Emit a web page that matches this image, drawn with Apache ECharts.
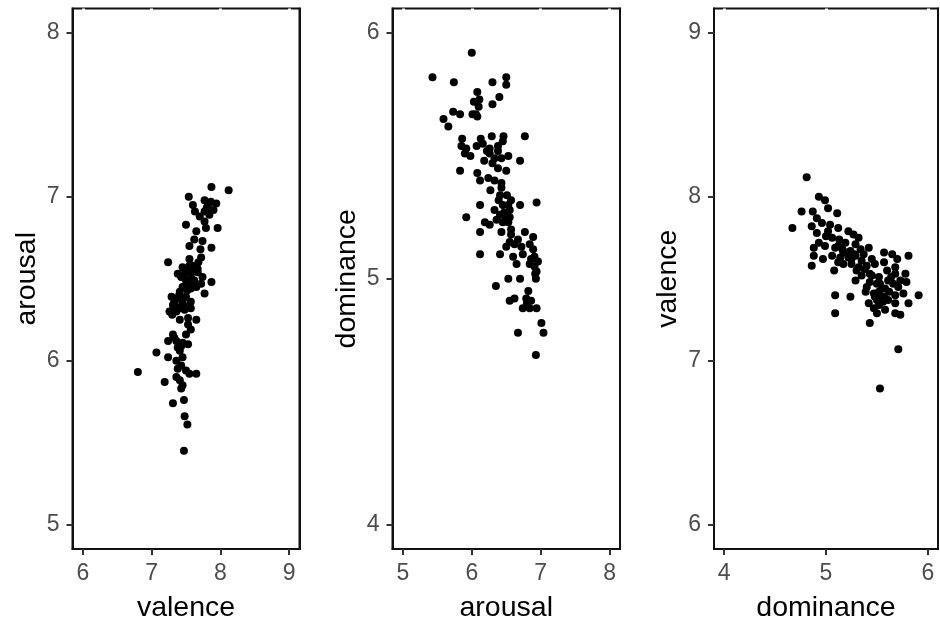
<!DOCTYPE html>
<html>
<head>
<meta charset="utf-8">
<title>valence / arousal / dominance</title>
<script src="https://cdn.jsdelivr.net/npm/echarts@6/dist/echarts.min.js"></script>
<style>
  html, body { margin: 0; padding: 0; background: #fff; }
  #chart { width: 940px; height: 628px; }
</style>
</head>
<body>
<div id="chart"></div>
<script>
// Each pair is one item: [x, y] for the panel it belongs to.
// Panel 1: valence (x) vs arousal (y)
const valenceArousal = [
  [7.87, 7.06], [8.12, 7.04], [7.54, 7.00], [7.77, 6.98], [7.86, 6.97], [7.94, 6.96],
  [7.81, 6.94], [7.90, 6.92], [7.60, 6.95], [7.63, 6.91], [7.77, 6.91], [7.84, 6.89],
  [7.50, 6.83], [7.96, 6.81], [7.77, 6.85], [7.79, 6.81], [7.65, 6.79], [7.55, 6.70],
  [7.87, 6.69], [7.74, 6.73], [7.71, 6.68], [7.72, 6.63], [7.24, 6.60], [7.45, 6.57],
  [7.53, 6.56], [7.60, 6.58], [7.48, 6.53], [7.57, 6.53], [7.67, 6.54], [7.38, 6.53],
  [7.74, 6.51], [7.87, 6.48], [7.62, 6.49], [7.55, 6.47], [7.65, 6.45], [7.77, 6.41],
  [7.41, 6.42], [7.29, 6.39], [7.38, 6.38], [7.50, 6.39], [7.31, 6.34], [7.45, 6.35],
  [7.57, 6.36], [7.26, 6.30], [7.36, 6.30], [7.48, 6.31], [7.57, 6.32], [7.41, 6.25],
  [7.53, 6.26], [7.65, 6.25], [7.57, 6.19], [7.50, 6.16], [7.24, 6.12], [7.33, 6.14],
  [7.45, 6.11], [7.53, 6.10], [7.07, 6.05], [7.38, 6.08], [7.41, 6.06], [7.24, 6.02],
  [7.36, 6.00], [7.43, 5.97], [7.50, 5.94], [7.55, 5.92], [6.80, 5.93], [7.65, 5.92],
  [7.36, 5.90], [7.41, 5.88], [7.45, 5.85], [7.43, 5.83], [7.19, 5.87], [7.31, 5.74],
  [7.47, 5.76], [7.48, 5.66], [7.52, 5.61], [7.47, 5.45], [7.43, 6.51], [7.50, 6.49],
  [7.57, 6.44], [7.33, 6.36], [7.41, 6.32], [7.53, 6.22], [7.67, 6.56], [7.72, 6.47],
  [7.62, 6.74], [7.31, 6.16], [7.45, 6.02], [7.38, 5.95], [7.55, 6.58], [7.62, 6.55],
  [7.50, 6.55], [7.58, 6.50], [7.45, 6.45], [7.52, 6.43], [7.40, 6.40], [7.35, 6.33],
  [7.46, 6.38], [7.52, 6.33], [7.68, 6.60], [7.80, 6.93], [7.83, 6.96], [7.70, 6.88],
  [7.36, 6.12], [7.43, 6.09], [7.30, 6.28], [7.55, 6.62]
];

// Panel 2: arousal (x) vs dominance (y)
const arousalDominance = [
  [6.00, 5.92], [5.43, 5.82], [5.74, 5.80], [6.30, 5.80], [6.50, 5.82], [6.50, 5.79],
  [6.08, 5.76], [6.11, 5.73], [6.03, 5.72], [6.40, 5.74], [6.30, 5.71], [5.73, 5.68],
  [5.83, 5.67], [5.59, 5.65], [6.01, 5.67], [6.06, 5.67], [5.66, 5.62], [5.86, 5.57],
  [6.13, 5.57], [6.29, 5.58], [6.46, 5.58], [6.77, 5.58], [5.85, 5.54], [5.92, 5.53],
  [6.07, 5.54], [6.16, 5.55], [6.26, 5.53], [6.38, 5.54], [5.98, 5.50], [6.26, 5.51],
  [6.33, 5.49], [6.43, 5.49], [6.53, 5.50], [6.70, 5.48], [5.83, 5.44], [6.08, 5.43],
  [6.12, 5.40], [6.24, 5.41], [6.33, 5.40], [6.43, 5.39], [6.27, 5.36], [6.41, 5.34],
  [6.51, 5.34], [6.57, 5.32], [6.12, 5.30], [6.45, 5.30], [6.70, 5.30], [6.94, 5.31],
  [6.33, 5.28], [6.41, 5.26], [6.55, 5.28], [5.92, 5.25], [6.36, 5.24], [6.45, 5.23],
  [6.53, 5.23], [6.19, 5.23], [6.12, 5.19], [6.43, 5.19], [6.57, 5.20], [6.77, 5.19],
  [6.89, 5.17], [6.55, 5.15], [6.67, 5.16], [6.84, 5.14], [6.50, 5.13], [6.41, 5.10],
  [6.12, 5.10], [6.60, 5.09], [6.74, 5.10], [6.91, 5.09], [6.84, 5.06], [6.96, 5.07],
  [6.65, 5.06], [6.94, 5.03], [6.53, 5.00], [6.70, 5.00], [6.93, 5.00], [6.35, 4.97],
  [6.82, 4.95], [6.55, 4.91], [6.62, 4.92], [6.79, 4.92], [6.74, 4.88], [6.84, 4.88],
  [6.94, 4.88], [7.01, 4.82], [6.67, 4.78], [7.04, 4.78], [6.93, 4.69], [6.45, 5.56],
  [6.38, 5.52], [6.50, 5.44], [6.43, 5.37], [6.53, 5.30], [6.49, 5.25], [6.72, 5.13],
  [6.89, 5.12], [6.26, 5.22], [6.91, 5.05], [6.86, 4.91], [6.47, 5.27], [6.55, 5.25],
  [6.39, 5.32], [6.30, 5.47], [6.22, 5.52], [6.38, 5.45], [6.86, 5.08], [6.92, 5.02],
  [6.62, 5.14], [6.80, 4.90], [6.10, 5.70], [6.08, 5.66], [5.90, 5.51], [6.57, 5.18],
  [6.18, 5.48]
];

// Panel 3: dominance (x) vs valence (y)
const dominanceValence = [
  [4.81, 8.12], [4.93, 8.00], [4.99, 7.98], [4.76, 7.91], [4.87, 7.91], [5.02, 7.93],
  [5.11, 7.90], [4.91, 7.87], [4.67, 7.81], [4.86, 7.82], [4.96, 7.84], [5.04, 7.83],
  [5.12, 7.81], [5.22, 7.79], [4.91, 7.78], [5.06, 7.75], [5.13, 7.74], [5.19, 7.72],
  [5.27, 7.77], [5.32, 7.75], [5.29, 7.71], [4.88, 7.69], [4.99, 7.70], [5.09, 7.69],
  [5.16, 7.68], [5.24, 7.67], [5.34, 7.68], [5.42, 7.69], [4.88, 7.64], [4.97, 7.62],
  [5.06, 7.64], [5.14, 7.63], [5.22, 7.63], [5.29, 7.64], [5.37, 7.65], [5.45, 7.62],
  [5.57, 7.66], [5.65, 7.65], [5.81, 7.64], [4.86, 7.58], [5.08, 7.55], [5.17, 7.59],
  [5.25, 7.59], [5.32, 7.57], [5.40, 7.58], [5.48, 7.59], [5.57, 7.60], [5.70, 7.62],
  [5.29, 7.49], [5.35, 7.52], [5.43, 7.53], [5.52, 7.51], [5.60, 7.55], [5.68, 7.57],
  [5.78, 7.53], [5.09, 7.40], [5.24, 7.39], [5.39, 7.42], [5.47, 7.41], [5.52, 7.42],
  [5.58, 7.44], [5.66, 7.47], [5.73, 7.49], [5.79, 7.48], [5.42, 7.35], [5.50, 7.37],
  [5.57, 7.39], [5.68, 7.40], [5.76, 7.41], [5.91, 7.40], [5.09, 7.29], [5.47, 7.32],
  [5.50, 7.29], [5.68, 7.35], [5.81, 7.35], [5.43, 7.23], [5.68, 7.29], [5.73, 7.28],
  [5.71, 7.07], [5.53, 6.83], [5.17, 7.66], [5.25, 7.62], [5.35, 7.61], [5.43, 7.48],
  [5.53, 7.47], [5.61, 7.49], [5.71, 7.45], [5.61, 7.37], [5.52, 7.34], [5.68, 7.53],
  [5.02, 7.79], [4.93, 7.72], [5.12, 7.60], [5.53, 7.40], [5.20, 7.66], [5.28, 7.65],
  [5.38, 7.56], [5.45, 7.52], [5.50, 7.47], [5.55, 7.44], [5.48, 7.39], [5.56, 7.36],
  [5.62, 7.42], [5.30, 7.55], [5.12, 7.70], [5.00, 7.76], [5.64, 7.51], [5.40, 7.45],
  [5.58, 7.31]
];

// Labelled tick values of each axis
const valenceTicksX = [6, 7, 8, 9];
const arousalTicksY = [5, 6, 7, 8];
const arousalTicksX = [5, 6, 7, 8];
const dominanceTicksY = [4, 5, 6];
const dominanceTicksX = [4, 5, 6];
const valenceTicksY = [6, 7, 8, 9];

const FONT = '"Liberation Sans", Arial, sans-serif';
const INK = '#111';

// Axis limits: tick range padded by 5% on each side
function padded(ticks) {
  const lo = ticks[0], hi = ticks[ticks.length - 1];
  const pad = (hi - lo) * 0.05;
  return [lo - pad, hi + pad];
}

const panels = [
  { left: 72.5, width: 227, x: 'valence',   xt: valenceTicksX,   y: 'arousal',   yt: arousalTicksY,   data: valenceArousal },
  { left: 392.5, width: 227.5, x: 'arousal', xt: arousalTicksX,   y: 'dominance', yt: dominanceTicksY, data: arousalDominance },
  { left: 714, width: 224, x: 'dominance',  xt: dominanceTicksX, y: 'valence',   yt: valenceTicksY,   data: dominanceValence }
];

const grid = [], xAxis = [], yAxis = [], series = [];

panels.forEach((p, i) => {
  const [xmin, xmax] = padded(p.xt);
  const [ymin, ymax] = padded(p.yt);

  grid.push({
    left: p.left, top: 8.5, width: p.width, height: 540.5,
    show: true, backgroundColor: '#fff', borderColor: INK, borderWidth: 2
  });

  // white vertical gridlines every half unit break the top frame edge
  xAxis.push({
    gridIndex: i, type: 'value', min: xmin, max: xmax, splitNumber: 7, z: 1,
    name: p.x, nameLocation: 'middle', nameGap: 45,
    nameTextStyle: { fontFamily: FONT, fontSize: 28.5, color: '#000' },
    axisLine: { show: true, onZero: false, lineStyle: { color: INK, width: 2 } },
    axisTick: { show: true, customValues: p.xt, length: 6, lineStyle: { color: '#333', width: 2 } },
    axisLabel: { customValues: p.xt, margin: 13, fontFamily: FONT, fontSize: 23, color: '#4d4d4d' },
    splitLine: { show: true, lineStyle: { color: '#fff', width: 3 } }
  });

  yAxis.push({
    gridIndex: i, type: 'value', min: ymin, max: ymax, z: 3,
    name: p.y, nameLocation: 'middle', nameGap: 31, nameRotate: 90,
    nameTextStyle: { fontFamily: FONT, fontSize: 28.5, color: '#000' },
    axisLine: { show: true, onZero: false, lineStyle: { color: INK, width: 2 } },
    axisTick: { show: true, customValues: p.yt, length: 6, lineStyle: { color: '#333', width: 2 } },
    axisLabel: { customValues: p.yt, margin: 13, fontFamily: FONT, fontSize: 23, color: '#4d4d4d' },
    splitLine: { show: false }
  });

  // right-hand frame edge of the panel
  yAxis.push({
    gridIndex: i, type: 'value', min: ymin, max: ymax, position: 'right', z: 3,
    axisLine: { show: true, onZero: false, lineStyle: { color: INK, width: 2 } },
    axisTick: { show: false }, axisLabel: { show: false }, splitLine: { show: false }
  });

  series.push({
    type: 'scatter', xAxisIndex: i, yAxisIndex: i * 2,
    data: p.data, symbol: 'circle', symbolSize: 8,
    itemStyle: { color: '#000', opacity: 1 },
    emphasis: { disabled: true }
  });
});

const chart = echarts.init(document.getElementById('chart'), null, { renderer: 'canvas' });
chart.setOption({
  animation: false,
  backgroundColor: '#fff',
  textStyle: { fontFamily: FONT },
  grid, xAxis, yAxis, series
});
</script>
</body>
</html>
